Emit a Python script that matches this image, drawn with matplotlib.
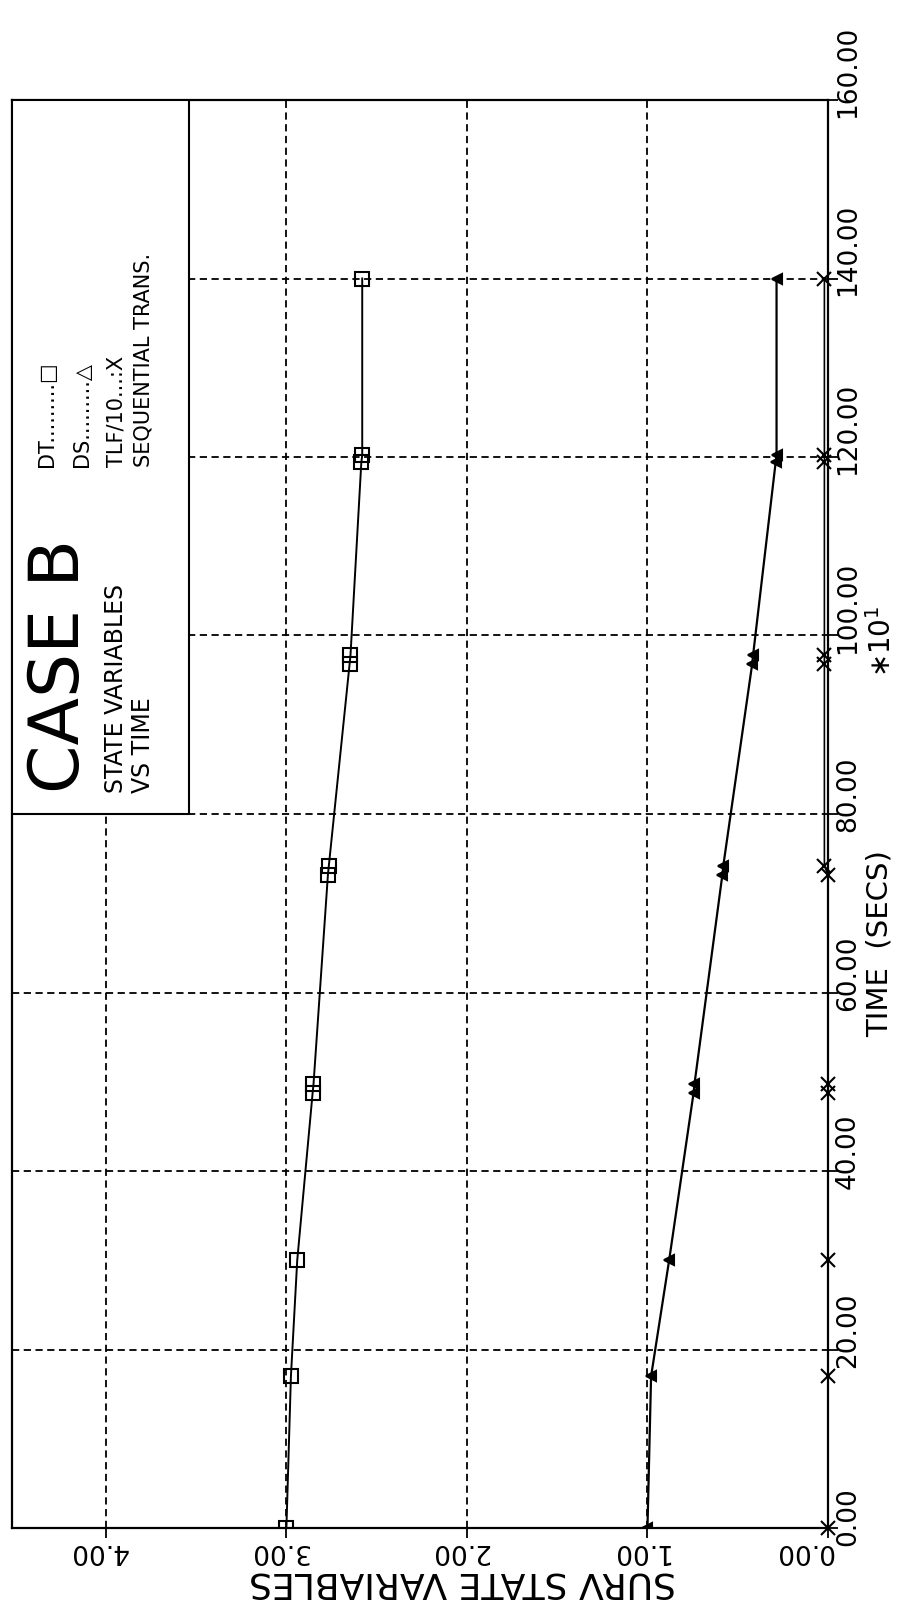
import matplotlib
matplotlib.use("Agg")
import matplotlib.pyplot as plt
from matplotlib.patches import Rectangle
from matplotlib.transforms import offset_copy

# time in secs (x10), plotted bottom -> top
time = [0, 17, 30, 48.7, 49.7, 73.2, 74.2, 96.8, 97.8, 119.4, 120.2, 140]
dt = [3.00, 2.975, 2.94, 2.855, 2.85, 2.77, 2.765, 2.65, 2.645, 2.585, 2.58, 2.58]
ds = [1.00, 0.98, 0.88, 0.745, 0.74, 0.585, 0.58, 0.42, 0.415, 0.29, 0.285, 0.285]
tlf = [0, 0, 0, 0, 0, 0, 0.02, 0.02, 0.02, 0.02, 0.02, 0.02]

val_ticks = [0, 1, 2, 3, 4]
val_labels = ["0.00", "1.00", "2.00", "3.00", "4.00"]
time_ticks = [0, 20, 40, 60, 80, 100, 120, 140, 160]
time_labels = ["%.2f" % t for t in time_ticks]

plt.rcParams['font.family'] = ['DejaVu Sans']

fig = plt.figure(figsize=(9, 16.07), dpi=100)
ax = fig.add_axes([12/900, 1 - 1528/1607, 816/900, 1428/1607])
ax.set_xlim(4.52, 0)
ax.set_ylim(0, 160)

ax.set_xticks(val_ticks)
ax.set_yticks(time_ticks)
ax.yaxis.tick_right()
ax.tick_params(direction='out', length=7, width=1.3, colors='black',
               labelbottom=False, labelright=False, labelleft=False)
ax.grid(True, color='black', linestyle=(0, (4, 2.5)), linewidth=1.3)
for s in ax.spines.values():
    s.set_linewidth(1.6)

# curves
ax.plot(dt, time, color='black', lw=1.4, marker='s', ms=10,
        mfc='none', mec='black', mew=1.5, zorder=4)
ax.plot(ds, time, color='black', lw=1.6, marker='<', ms=7,
        mfc='black', mec='black', mew=1.5, zorder=4)
ax.plot(tlf, time, color='black', lw=1.2, marker='x', ms=10,
        mew=1.5, zorder=4, clip_on=False)

# legend / title box
ax.add_patch(Rectangle((3.54, 80), 4.52 - 3.54, 80, transform=ax.transData,
                       fc='white', ec='black', lw=1.5, zorder=3))
ax.text(0.0588, 0.515, "CASE B", transform=ax.transAxes, rotation=90,
        ha='center', va='bottom', fontsize=50, zorder=5)
ax.text(0.1275, 0.515, "STATE VARIABLES", transform=ax.transAxes, rotation=90,
        ha='center', va='bottom', fontsize=17, zorder=5)
ax.text(0.161, 0.515, "VS TIME", transform=ax.transAxes, rotation=90,
        ha='center', va='bottom', fontsize=17, zorder=5)
leg = [("DT.........\u25a1", 0.0429), ("DS.........\u25b3", 0.0858),
       ("TLF/10...:X", 0.128), ("SEQUENTIAL TRANS.", 0.161)]
for txt, xx in leg:
    ax.text(xx, 0.743, txt, transform=ax.transAxes, rotation=90,
            ha='center', va='bottom', fontsize=15, zorder=5)

# time tick labels on the right, reading upward
ttr = offset_copy(ax.get_yaxis_transform(), fig=fig, y=-18, units='dots')
for t, lab in zip(time_ticks, time_labels):
    ax.text(1 + 20/816, t, lab, transform=ttr, rotation=90,
            ha='center', va='bottom', fontsize=19)

# value tick labels below, upside down
for v, lab in zip(val_ticks, val_labels):
    dx = 5 if v == 0 else 22
    vtr = offset_copy(ax.get_xaxis_transform(), fig=fig, x=dx, units='dots')
    ax.text(v, -23/1428, lab, transform=vtr, rotation=180,
            ha='right', va='center', fontsize=19)

# axis titles
ax.text(1 + 52/816, 55, "TIME  (SECS)", transform=ax.get_yaxis_transform(),
        rotation=90, ha='center', va='bottom', fontsize=21)
ax.text(1 + 54/816, 95.3, "\u2217$10^{1}$", transform=ax.get_yaxis_transform(),
        rotation=90, ha='center', va='bottom', fontsize=20)
ax.text(0.84, -54/1428, "SURV STATE VARIABLES", transform=ax.get_xaxis_transform(),
        rotation=180, ha='right', va='center', fontsize=26)

fig.savefig("out.png", dpi=100)
